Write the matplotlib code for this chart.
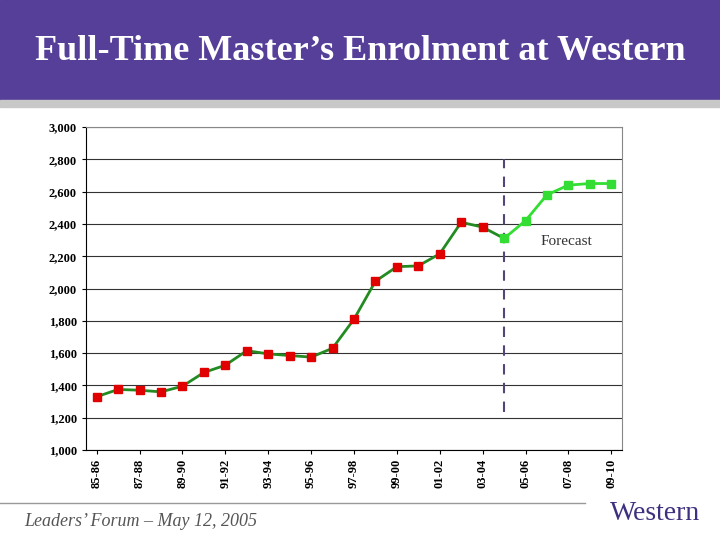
import matplotlib
matplotlib.use("Agg")
import matplotlib.pyplot as plt

years = ["85-86","86-87","87-88","88-89","89-90","90-91","91-92","92-93","93-94","94-95",
         "95-96","96-97","97-98","98-99","99-00","00-01","01-02","02-03","03-04","04-05",
         "05-06","06-07","07-08","08-09","09-10"]
actual = [1330,1375,1370,1360,1395,1480,1525,1615,1595,1585,1575,1630,1810,2045,2135,2140,2215,2410,2380,2310]
forecast = [2310,2420,2580,2640,2650,2650]
yticks = [1000,1200,1400,1600,1800,2000,2200,2400,2600,2800,3000]

fig = plt.figure(figsize=(7.2,5.4), dpi=100)
fig.patches.append(plt.Rectangle((0,1-100/540),1,100/540,transform=fig.transFigure,color="#553f99",zorder=0))
fig.patches.append(plt.Rectangle((0,1-107/540),1,7/540,transform=fig.transFigure,color="#c8c8c8",zorder=0))
fig.text(0.5,1-52/540,"Full-Time Master’s Enrolment at Western",ha="center",va="center",
         color="white",fontsize=26,fontweight="bold",family="Liberation Serif")

ax = fig.add_axes([86/720, 1-450/540, (622-86)/720, (450-127)/540])
n = len(years)
xa = list(range(len(actual)))
xf = list(range(len(actual)-1, n))
ax.plot(xa, actual, color="#228b22", lw=2, zorder=3)
ax.plot(xf, forecast, color="#33dd33", lw=2, zorder=3)
ax.plot(xa[:-1], actual[:-1], ls="none", marker="s", ms=6, color="#e00000", zorder=4)
ax.plot(xf, forecast, ls="none", marker="s", ms=6, color="#33dd33", zorder=4)
ax.vlines(19, 1235, 2800, colors="#554477", linestyles=(0,(5,4)), lw=1.5)
ax.text(20.7, 2270, "Forecast", fontsize=11, family="Liberation Serif", color="#333333")
ax.set_xlim(-0.5, n-0.5)
ax.set_ylim(1000, 3000)
ax.set_yticks(yticks)
ax.set_yticklabels([f"{v:,}" for v in yticks], fontsize=9, fontweight="bold", family="Liberation Serif")
ax.set_xticks(range(0,n,2))
ax.set_xticklabels(years[::2], rotation=90, fontsize=9, fontweight="bold", family="Liberation Serif")
ax.grid(axis="y", color="#333333", lw=0.8)
ax.set_axisbelow(True)
for s in ["top","right"]:
    ax.spines[s].set_visible(True)
    ax.spines[s].set_color("#888888")
ax.tick_params(length=3)

fig.add_artist(plt.Line2D([0,585/720],[1-503/540]*2,transform=fig.transFigure,color="#999999",lw=1))
fig.text(24/720,1-522/540,"Leaders’ Forum – May 12, 2005",fontsize=13,style="italic",
         color="#555555",family="Liberation Serif",va="center")
fig.text(655/720,1-513/540,"Western",fontsize=20,color="#3f2f7f",family="Liberation Serif",ha="center",va="center")
fig.savefig("out.png", dpi=100)
